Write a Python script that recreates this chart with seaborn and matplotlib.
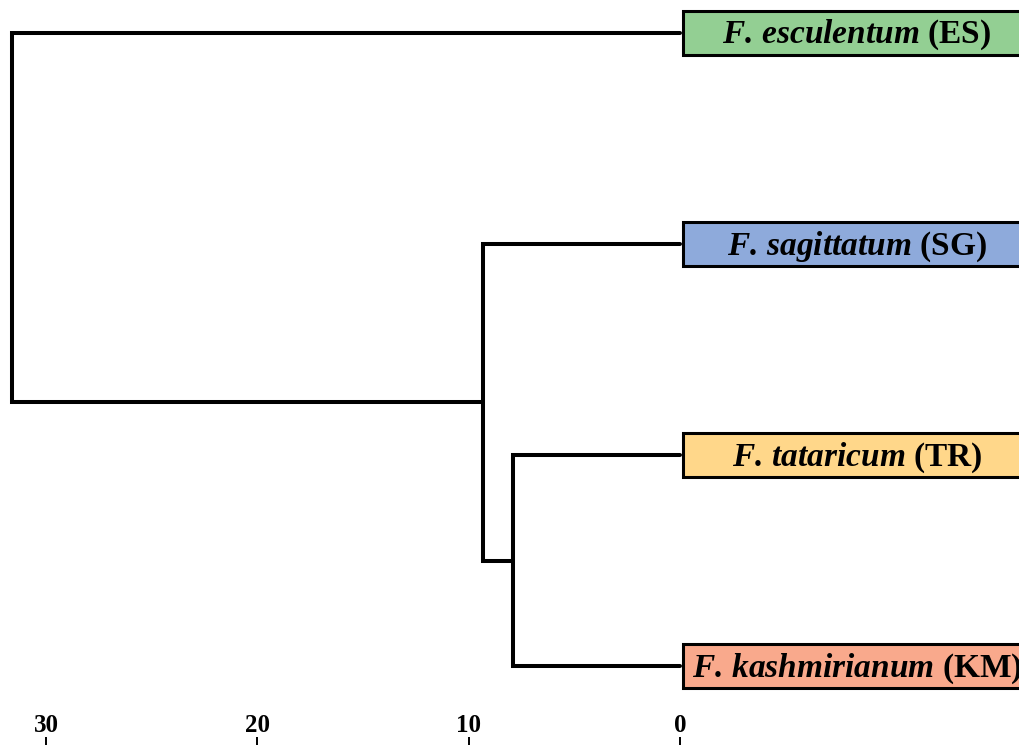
import matplotlib
matplotlib.use("Agg")
import matplotlib.pyplot as plt
import numpy as np
import pandas as pd
import seaborn as sns

# leaves from top to bottom, label parts and box colours
species = ["F. esculentum", "F. sagittatum", "F. tataricum", "F. kashmirianum"]
codes = ["ES", "SG", "TR", "KM"]
box_colors = ["#93cf93", "#8eaadb", "#ffd78a", "#f9a98c"]

# merges: (left child, right child, height); ids >= 4 are earlier merges
merge_pairs = [(2, 3), (1, 4), (0, 5)]
merge_heights = [7.9, 9.3, 31.6]

ticks = [30, 20, 10, 0]

# ---- build dendrogram segments from the tree ----
pos = {i: (0.0, float(i)) for i in range(len(species))}  # id -> (height, y)
rows = []
for k, ((a, b), h) in enumerate(zip(merge_pairs, merge_heights)):
    ha, ya = pos[a]
    hb, yb = pos[b]
    for x, y in [(ha, ya), (h, ya), (h, yb), (hb, yb)]:
        rows.append({"seg": k, "x": x, "y": y})
    pos[len(species) + k] = (h, (ya + yb) / 2)
seg_df = pd.DataFrame(rows)

# ---- style ----
sns.set_theme(style="white")
plt.rcParams["font.family"] = ["Liberation Serif", "DejaVu Serif"]
plt.rcParams["mathtext.fontset"] = "custom"
plt.rcParams["mathtext.rm"] = "Liberation Serif:bold"
plt.rcParams["mathtext.bf"] = "Liberation Serif:bold"
plt.rcParams["mathtext.it"] = "Liberation Serif:italic"
plt.rcParams["mathtext.bfit"] = "Liberation Serif:bold:italic"

fig = plt.figure(figsize=(10.2, 7.45), dpi=100)
ax = fig.add_axes([0, 0, 1, 1])

sns.lineplot(data=seg_df, x="x", y="y", units="seg", estimator=None, sort=False,
             color="black", lw=2.9, solid_joinstyle="miter", ax=ax, legend=False)

# pixel geometry of the original: 0 at x=680, 10 units = 211.3 px
kx = 21.13
ax.set_xlim(680 / kx, (680 - 1020) / kx)
ax.set_ylim((745 - 32.5) / 211.3, -32.5 / 211.3)

# label boxes
bh = 44 / 211.3
for i, (sp, cd, col) in enumerate(zip(species, codes, box_colors)):
    ax.add_patch(plt.Rectangle((-0.15, i - bh / 2), -17.0, bh, facecolor=col,
                               edgecolor="black", lw=2.2, zorder=3))
    name = sp.replace(" ", r"\,")
    ax.text(-8.375, i + 0.012, r"$\mathbfit{" + name + "}$ (" + cd + ")",
            ha="center", va="center", fontsize=24, fontweight="bold",
            color="black", zorder=4)

for s in ax.spines.values():
    s.set_visible(False)
ax.set_xlabel("")
ax.set_ylabel("")
ax.set_yticks([])
ax.set_xticks(ticks)
ax.set_xticklabels([str(t) for t in ticks], fontsize=18, fontweight="bold")
ax.tick_params(axis="x", bottom=True, direction="in", length=5.8, width=1.4,
               color="black", pad=-22.5, labelcolor="black")
ax.grid(False)

plt.savefig("out.png", dpi=100)
